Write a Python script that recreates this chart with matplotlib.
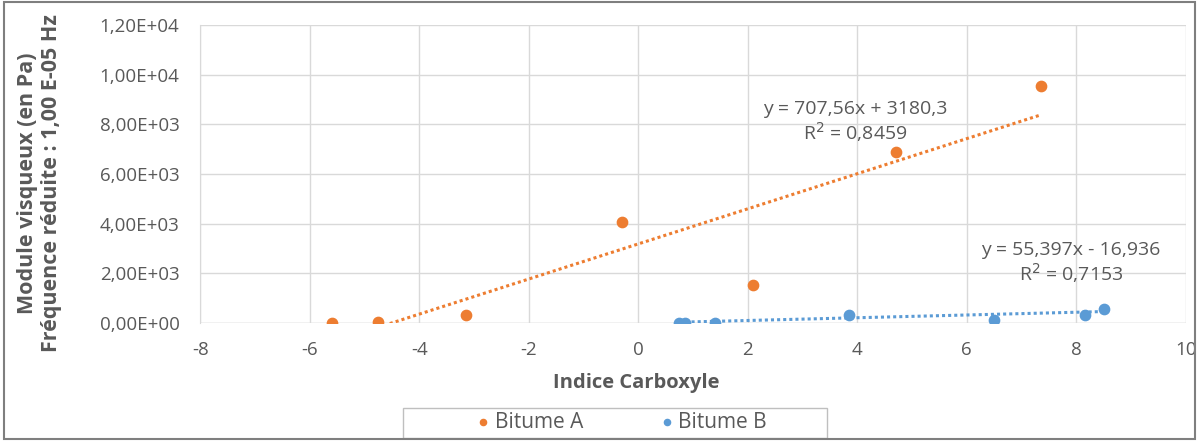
import matplotlib
matplotlib.use("Agg")
import matplotlib.pyplot as plt
import numpy as np
from matplotlib.patches import Rectangle

plt.rcParams['font.family'] = ['Open Sans', 'DejaVu Sans']
plt.rcParams['axes.unicode_minus'] = False

# Données
bitume_a_x = [-5.6, -4.75, -3.15, -0.3, 2.1, 4.7, 7.35]
bitume_a_y = [0, 50, 330, 4060, 1540, 6880, 9540]
bitume_b_x = [0.75, 0.85, 1.4, 3.85, 6.5, 8.15, 8.5]
bitume_b_y = [0, 0, 0, 330, 110, 330, 540]

# Courbes de tendance (équations affichées)
pente_a, origine_a = 707.56, 3180.3
pente_b, origine_b = 55.397, -16.936

x_ticks = [-8, -6, -4, -2, 0, 2, 4, 6, 8, 10]
y_ticks = [0, 2000, 4000, 6000, 8000, 10000, 12000]
y_labels = ['0,00E+00', '2,00E+03', '4,00E+03', '6,00E+03',
            '8,00E+03', '1,00E+04', '1,20E+04']

orange = '#ED7D31'
bleu = '#5B9BD5'
gris = '#595959'

fig = plt.figure(figsize=(11.99, 4.41), dpi=100)
ax = fig.add_axes([0.167, 0.268, 0.822, 0.675])

ax.scatter(bitume_a_x, bitume_a_y, s=55, color=orange, zorder=3, label='Bitume A')
ax.scatter(bitume_b_x, bitume_b_y, s=55, color=bleu, zorder=3, label='Bitume B')

xa = np.array([min(bitume_a_x), max(bitume_a_x)])
ax.plot(xa, pente_a * xa + origine_a, linestyle=(0, (1, 1)), linewidth=2.2,
        color=orange, zorder=2)
xb = np.array([min(bitume_b_x), max(bitume_b_x)])
ax.plot(xb, pente_b * xb + origine_b, linestyle=(0, (1, 1)), linewidth=2.2,
        color=bleu, zorder=2)

ax.text(3.96, 8110, 'y = 707,56x + 3180,3\nR$^2$ = 0,8459', ha='center', va='center',
        fontsize=14, color=gris, linespacing=1.1)
ax.text(7.9, 2400, 'y = 55,397x - 16,936\nR$^2$ = 0,7153', ha='center', va='center',
        fontsize=14, color=gris, linespacing=1.1)

ax.set_xlim(-8, 10)
ax.set_ylim(0, 12000)
ax.set_xticks(x_ticks)
ax.set_yticks(y_ticks)
ax.set_yticklabels(y_labels)
ax.tick_params(axis='both', length=0, labelsize=13.5, labelcolor=gris)
ax.tick_params(axis='y', pad=15)
ax.tick_params(axis='x', pad=13)
ax.grid(True, color='#D9D9D9', linewidth=1)
ax.set_axisbelow(True)
for s in ['top', 'right', 'bottom']:
    ax.spines[s].set_visible(False)
ax.spines['left'].set_color('#D9D9D9')
ax.axhline(0, color='#D9D9D9', linewidth=1, zorder=1)

fig.text(0.531, 0.1315, 'Indice Carboxyle', ha='center', va='center', fontsize=14.5,
         fontweight='bold', color=gris)
fig.text(0.033, 0.585, 'Module visqueux (en Pa)\nFréquence réduite : 1,00 E-05 Hz',
         rotation=90, ha='center', va='center', fontsize=15.5, fontweight='bold',
         color=gris, linespacing=1.15)

leg = fig.legend(loc='center', bbox_to_anchor=(0.517, 0.043), ncol=2, fontsize=15,
                 frameon=False, handlelength=1.0, handletextpad=0.05,
                 columnspacing=3.5, markerscale=0.6)
for t in leg.get_texts():
    t.set_color(gris)
fig.patches.append(Rectangle((403 / 1199, 1 - 438 / 441), 424 / 1199, 30 / 441,
                             transform=fig.transFigure, fill=False,
                             edgecolor='#BFBFBF', linewidth=1))

fig.patches.append(Rectangle((0.003, 0.005), 0.994, 0.99, transform=fig.transFigure,
                             fill=False, edgecolor='#7F7F7F', linewidth=1.5))

fig.savefig('out.png', dpi=100)
